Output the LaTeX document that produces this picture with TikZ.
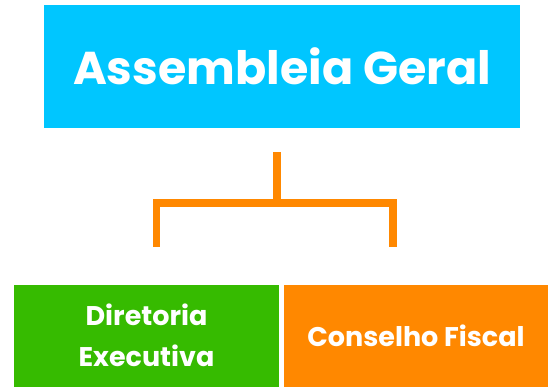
\documentclass[tikz,border=0pt]{standalone}
\usepackage{fontspec}
\setmainfont{Poppins}
\definecolor{topcyan}{RGB}{0,198,255}
\definecolor{dirgreen}{RGB}{54,187,0}
\definecolor{fiscorange}{RGB}{255,136,0}
\tikzset{
    orgbox/.style={inner sep=0pt, text=white, align=center},
    link/.style={draw=fiscorange, line width=7.5pt}
}
\begin{document}
\begin{tikzpicture}[x=1pt,y=-1pt]
            \useasboundingbox (0,0) rectangle (548,387);

            \node[
                orgbox,
                fill=topcyan,
                minimum width=476pt,
                minimum height=123pt,
                font=\bfseries\fontsize{46}{55}\selectfont,
                name=ag
            ] at (282,66.5) {Assembleia Geral};

            \node[
                orgbox,
                fill=dirgreen,
                minimum width=265pt,
                minimum height=102.5pt,
                font=\bfseries\fontsize{27}{41}\selectfont,
                name=dir
            ] at (146.5,335.75) {Diretoria\\Executiva};
            \node[
                orgbox,
                fill=fiscorange,
                minimum width=264pt,
                minimum height=102.5pt,
                font=\bfseries\fontsize{27}{41}\selectfont,
                name=cf
            ] at (416,335.75) {Conselho Fiscal};

            \coordinate (stem) at (277,152.5);
            \coordinate (bar) at (277,203);
            \coordinate (dleg) at (156.5,246.5);
            \coordinate (fleg) at (393,246.5);

            \draw[link] (stem) -- (bar);
            \draw[link] (dleg) -- (dleg |- bar) -- (fleg |- bar) -- (fleg);
        \end{tikzpicture}
\end{document}
